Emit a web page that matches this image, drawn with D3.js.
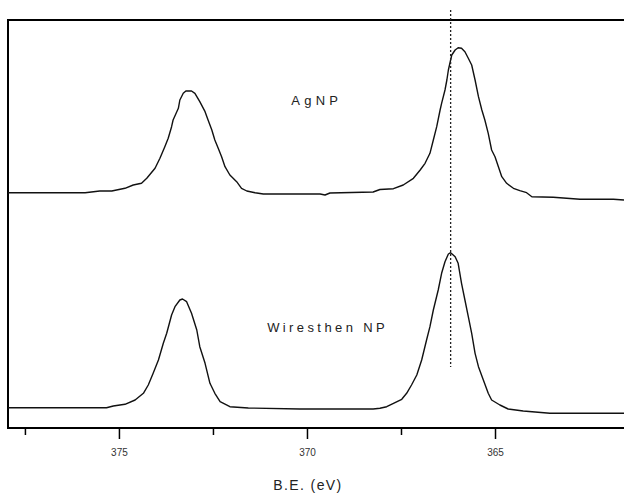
<!DOCTYPE html>
<html>
<head>
<meta charset="utf-8">
<script src="https://cdn.jsdelivr.net/npm/d3@7"></script>
<style>
  html, body { margin: 0; padding: 0; background: #fff; }
  svg { display: block; }
</style>
</head>
<body>
<svg id="chart" width="624" height="493"></svg>
<script>
// Ag 3d XPS spectra: binding energy (eV) vs. intensity (a.u., stacked)
const agnpEnergy = [377.95, 375.90, 375.51, 375.19, 374.84, 374.62, 374.40, 374.26, 374.04, 373.91,
  373.78, 373.69, 373.60, 373.56, 373.42, 373.38, 373.29, 373.22, 373.07, 372.98,
  372.85, 372.71, 372.63, 372.53, 372.45, 372.36, 372.27, 372.18, 372.05, 371.87,
  371.74, 371.60, 371.38, 371.16, 369.65, 369.52, 369.39, 368.24, 368.06, 367.70,
  367.44, 367.17, 366.99, 366.86, 366.73, 366.64, 366.55, 366.46, 366.42, 366.33,
  366.28, 366.24, 366.15, 366.06, 365.98, 365.89, 365.80, 365.71, 365.62, 365.53,
  365.44, 365.35, 365.27, 365.18, 365.09, 365.00, 364.91, 364.82, 364.69, 364.51,
  364.34, 364.16, 364.02, 363.45, 362.74, 361.85, 361.57];
const agnpIntensity = [235.3, 235.3, 237, 237, 239.7, 243, 244.7, 249.7, 259.7, 269.7,
  281.3, 289.7, 301.3, 308, 319.7, 328, 334.7, 337, 337, 334.7,
  326.3, 316.3, 308, 298, 288, 279.7, 271.3, 261.3, 253, 246.3,
  239.7, 237, 235.3, 234, 234, 233, 235, 236, 238.5, 239.3,
  243, 249.7, 258, 264.7, 274.7, 288, 301.3, 318, 324.7, 338,
  348, 358, 373, 378, 380.3, 379.7, 376.3, 369.7, 363, 348,
  331.3, 318, 308, 294.7, 278, 271.3, 261.3, 251.3, 244.7, 239.7,
  237.3, 235.3, 231.3, 230.7, 228.7, 228.7, 228];

const wireEnergy = [377.95, 375.33, 375.15, 374.84, 374.57, 374.35, 374.22, 374.09, 373.95, 373.82,
  373.73, 373.60, 373.51, 373.38, 373.31, 373.20, 373.07, 372.93, 372.85, 372.71,
  372.58, 372.45, 372.31, 372.05, 371.56, 370.19, 368.24, 368.06, 367.88, 367.70,
  367.48, 367.35, 367.22, 367.08, 366.95, 366.82, 366.73, 366.64, 366.51, 366.42,
  366.33, 366.24, 366.18, 366.06, 365.98, 365.89, 365.80, 365.71, 365.62, 365.53,
  365.44, 365.31, 365.18, 365.09, 364.87, 364.65, 364.25, 363.54, 361.57];
const wireIntensity = [20.3, 20.3, 22, 23.7, 28, 34.7, 43, 54.7, 68, 84.7,
  94.7, 113, 121.3, 128, 129, 126.3, 114.7, 98, 81.3, 64.7,
  44.7, 34.7, 26.3, 21.3, 20, 19, 19, 19.7, 21.3, 24.7,
  28.7, 34.7, 43, 53, 68, 88, 101.3, 118, 138, 154.7,
  166.3, 174, 175.3, 171.3, 164.7, 144.7, 128, 111.3, 94.7, 74.7,
  61.3, 48, 34.7, 28, 23, 19, 17, 14.7, 14.7];

// Axis ticks (eV)
const majorTicks = [375, 370, 365];
const minorTicks = [377.5, 372.5, 367.5];

// Reference energy marker and its vertical extent (a.u.)
const markerEnergy = 366.18;
const markerSpan = [61, 418];

// Series labels placed in data coordinates
const labels = [
  { text: "AgNP", e: 369.74, i: 323, spacing: 4.2 },
  { text: "Wiresthen NP", e: 369.45, i: 96, spacing: 3.4 }
];

const svg = d3.select("#chart");
const plotLeft = 8, plotTop = 20, plotBottom = 428, plotRight = 624;

const x = d3.scaleLinear().domain([377.95, 361.57]).range([plotLeft, plotRight]);
const y = d3.scaleLinear().domain([0, 408]).range([plotBottom, plotTop]);

const font = "'Liberation Sans', Arial, sans-serif";

// Frame: top and left borders
svg.append("line").attr("x1", plotLeft).attr("x2", plotRight).attr("y1", plotTop).attr("y2", plotTop)
  .attr("stroke", "#000").attr("stroke-width", 2);
svg.append("line").attr("x1", plotLeft).attr("x2", plotLeft).attr("y1", plotTop - 1).attr("y2", plotBottom)
  .attr("stroke", "#000").attr("stroke-width", 2);

// Bottom axis with major (labelled) and minor ticks
const axisG = svg.append("g").attr("transform", `translate(0,${plotBottom})`);
axisG.call(d3.axisBottom(x).tickValues(majorTicks).tickSize(11).tickSizeOuter(0)
  .tickFormat(d3.format("d")));
axisG.select(".domain").attr("stroke", "#000").attr("stroke-width", 2)
  .attr("d", `M${plotLeft - 1},0H${plotRight}`);
axisG.selectAll(".tick line").attr("stroke", "#000").attr("stroke-width", 1.5);
axisG.selectAll(".tick text").attr("font-family", font).attr("font-size", 10)
  .attr("fill", "#333").attr("dy", 0).attr("y", 28);

const minorG = svg.append("g").attr("transform", `translate(0,${plotBottom})`);
minorG.call(d3.axisBottom(x).tickValues(minorTicks).tickSize(7).tickFormat(""));
minorG.select(".domain").remove();
minorG.selectAll(".tick line").attr("stroke", "#000").attr("stroke-width", 1.5);

svg.append("text").attr("x", x(370) + 1).attr("y", 490)
  .attr("text-anchor", "middle").attr("font-family", font).attr("font-size", 14)
  .attr("fill", "#222").attr("letter-spacing", 1.4).text("B.E. (eV)");

// Spectra
const line = d3.line().x(d => x(d[0])).y(d => y(d[1]));
[[agnpEnergy, agnpIntensity], [wireEnergy, wireIntensity]].forEach(([es, is]) => {
  svg.append("path").datum(d3.zip(es, is))
    .attr("d", line).attr("fill", "none")
    .attr("stroke", "#111").attr("stroke-width", 1.4).attr("stroke-linejoin", "round");
});

// Dotted reference line
svg.append("line")
  .attr("x1", x(markerEnergy)).attr("x2", x(markerEnergy))
  .attr("y1", y(markerSpan[1])).attr("y2", y(markerSpan[0]))
  .attr("stroke", "#222").attr("stroke-width", 1.3).attr("stroke-dasharray", "2,2");

// Series labels
svg.selectAll("text.lbl").data(labels).enter().append("text").attr("class", "lbl")
  .attr("x", d => x(d.e)).attr("y", d => y(d.i))
  .attr("text-anchor", "middle").attr("font-family", font).attr("font-size", 13)
  .attr("fill", "#222").attr("letter-spacing", d => d.spacing).text(d => d.text);
</script>
</body>
</html>
